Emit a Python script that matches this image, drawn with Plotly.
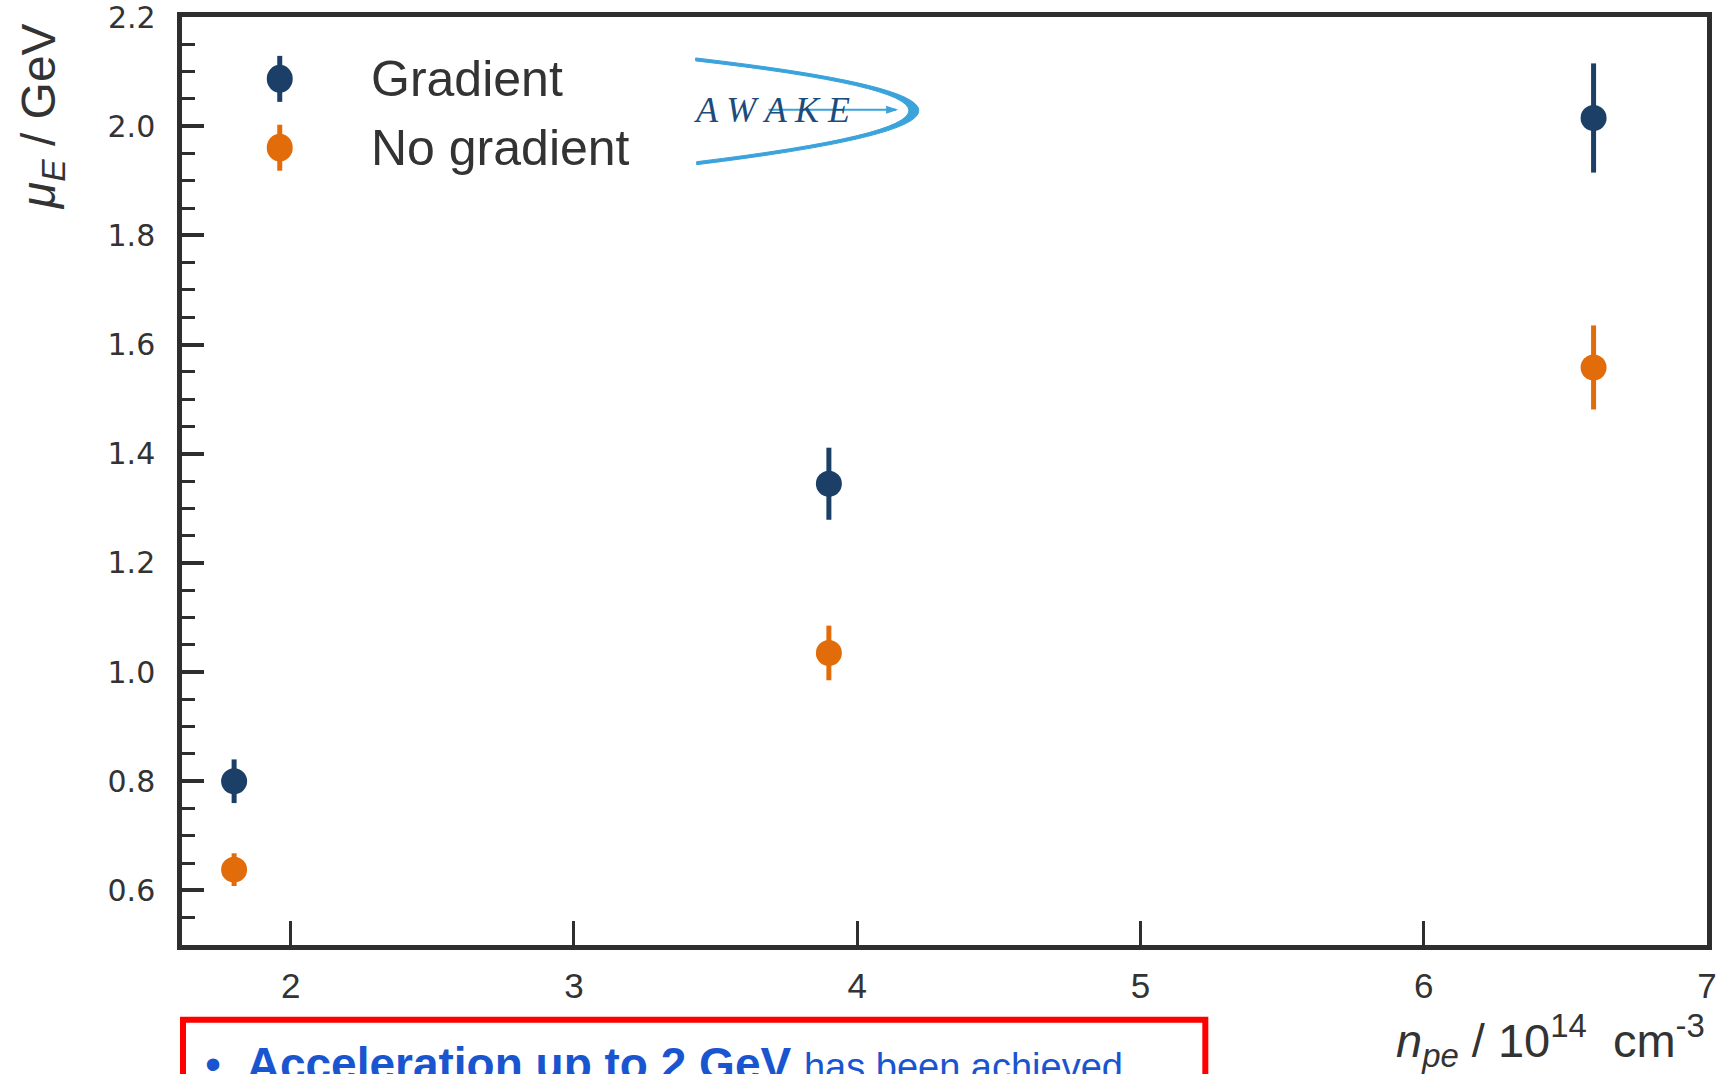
import plotly.graph_objects as go

# Mean witness-bunch energy vs. plasma electron density
density = [1.8, 3.9, 6.6]                     # n_pe / 1e14 cm^-3
gradient_energy = [0.80, 1.345, 2.015]        # GeV
gradient_err = [0.04, 0.066, 0.10]
no_gradient_energy = [0.638, 1.035, 1.558]    # GeV
no_gradient_err = [0.03, 0.05, 0.077]

series_names = ["Gradient", "No gradient"]
series_colors = ["#1b3f66", "#e36c0a"]

x_ticks = [2, 3, 4, 5, 6, 7]
y_ticks = [0.6, 0.8, 1.0, 1.2, 1.4, 1.6, 1.8, 2.0, 2.2]
y_tick_text = ["0.6", "0.8", "1.0", "1.2", "1.4", "1.6", "1.8", "2.0", "2.2"]

W, H = 1729, 1074
ML, MR, MT, MB = 182, 18, 15, 129
PW, PH = W - ML - MR, H - MT - MB

AXIS = "#2e2e2e"
TEXT = "#333333"
Y_TICK_FONT = dict(family="DejaVu Sans, Liberation Sans", size=30, color=TEXT)


def px(xp):
    """page pixel x -> paper x"""
    return (xp - ML) / PW


def py(yp):
    """page pixel y -> paper y"""
    return (H - MB - yp) / PH


fig = go.Figure()

for name, color, yv, err in [
    (series_names[0], series_colors[0], gradient_energy, gradient_err),
    (series_names[1], series_colors[1], no_gradient_energy, no_gradient_err),
]:
    fig.add_trace(go.Scatter(
        x=density, y=yv, mode="markers", name=name,
        marker=dict(size=26, color=color, line=dict(width=0)),
        error_y=dict(type="data", array=err, visible=True,
                     thickness=5, width=0, color=color),
        showlegend=False,
    ))

shapes = []
annotations = []

# hand-built legend: marker with error bar, then label
legend_rows = [77, 146]
for name, color, yrow in zip(series_names, series_colors, legend_rows):
    shapes.append(dict(type="line", xref="paper", yref="paper",
                       xsizemode="pixel", ysizemode="pixel",
                       xanchor=px(280), yanchor=py(yrow),
                       x0=0, x1=0, y0=-23, y1=23,
                       line=dict(color=color, width=5)))
    shapes.append(dict(type="circle", xref="paper", yref="paper",
                       xsizemode="pixel", ysizemode="pixel",
                       xanchor=px(280), yanchor=py(yrow),
                       x0=-13, x1=13, y0=-14, y1=14,
                       fillcolor=color, line=dict(width=0)))
    annotations.append(dict(text=name, xref="paper", yref="paper",
                            x=px(369), y=py(yrow), xanchor="left", yanchor="middle",
                            showarrow=False,
                            font=dict(family="Liberation Sans, Arial", size=50, color=TEXT)))

# AWAKE logo: crescent-shaped parabola, arrow line and lettering
def pt(xp, yp):
    return f"{px(xp):.5f},{py(yp):.5f}"

crescent = ("M " + pt(697, 56) + " Q " + pt(1144, 108) + " " + pt(698, 163)
            + " L " + pt(698, 160) + " Q " + pt(1124, 108) + " " + pt(697, 59) + " Z")
shapes.append(dict(type="path", xref="paper", yref="paper", path=crescent,
                   fillcolor="#3ba3db", line=dict(color="#3ba3db", width=1)))
shapes.append(dict(type="line", xref="paper", yref="paper",
                   x0=px(770), x1=px(898), y0=py(108), y1=py(108),
                   line=dict(color="#3ba3db", width=2)))
shapes.append(dict(type="path", xref="paper", yref="paper",
                   path="M " + pt(888, 104) + " L " + pt(900, 108) + " L " + pt(888, 112) + " Z",
                   fillcolor="#3ba3db", line=dict(width=0)))
annotations.append(dict(text="<i>A W A K E</i>", xref="paper", yref="paper",
                        x=px(693), y=py(108), xanchor="left", yanchor="middle",
                        showarrow=False,
                        font=dict(family="Liberation Serif, DejaVu Serif", size=36, color="#1d4c7c")))

# top y tick label sits on the frame edge, so place it explicitly
annotations.append(dict(text=y_tick_text[-1], xref="paper", yref="y",
                        x=px(158), y=y_ticks[-1], xanchor="right", yanchor="middle",
                        showarrow=False, font=Y_TICK_FONT))

# axis titles
annotations.append(dict(text="<i>μ</i><sub><i>E</i></sub> / GeV", xref="paper", yref="paper",
                        x=px(41), y=py(115), xanchor="center", yanchor="middle",
                        textangle=-90, showarrow=False,
                        font=dict(family="Liberation Sans, Arial", size=48, color=TEXT)))
annotations.append(dict(text="<i>n</i><sub><i>pe</i></sub> / 10<sup>14</sup>  cm<sup>-3</sup>",
                        xref="paper", yref="paper",
                        x=1.0, y=py(1041), xanchor="right", yanchor="middle",
                        showarrow=False,
                        font=dict(family="Liberation Sans, Arial", size=47, color=TEXT)))

# red summary box below the chart
shapes.append(dict(type="rect", xref="paper", yref="paper",
                   x0=px(183), x1=px(1208), y0=py(1020), y1=py(1120),
                   line=dict(color="#ff0000", width=6), fillcolor="rgba(0,0,0,0)"))
annotations.append(dict(
    text="•  <b>Acceleration up to 2 GeV</b> <span style='font-size:38px'>has been achieved</span>",
    xref="paper", yref="paper", x=px(203), y=py(1036), xanchor="left", yanchor="top",
    showarrow=False,
    font=dict(family="Liberation Sans, Arial", size=46, color="#1a55d0")))

fig.update_layout(
    width=W, height=H,
    margin=dict(l=ML, r=MR, t=MT, b=MB, pad=0),
    paper_bgcolor="white", plot_bgcolor="white",
    shapes=shapes, annotations=annotations,
    showlegend=False,
    xaxis=dict(range=[1.616, 7.0005], tickvals=x_ticks, ticktext=[str(v) for v in x_ticks],
               showgrid=False, zeroline=False,
               showline=True, linewidth=4.5, linecolor=AXIS, mirror=True,
               ticks="inside", ticklen=24, tickwidth=3, tickcolor=AXIS,
               ticklabelstandoff=6,
               tickfont=dict(family="Liberation Sans Narrow, Liberation Sans, Arial", size=35, color=TEXT)),
    yaxis=dict(range=[0.5, 2.2], tickvals=y_ticks[:-1], ticktext=y_tick_text[:-1],
               showgrid=False, zeroline=False,
               showline=True, linewidth=4.5, linecolor=AXIS, mirror=True,
               ticks="inside", ticklen=22, tickwidth=3.5, tickcolor=AXIS,
               ticklabelstandoff=16,
               minor=dict(tick0=0.5, dtick=0.05, ticks="inside", ticklen=13,
                          tickwidth=3, tickcolor=AXIS, showgrid=False),
               tickfont=Y_TICK_FONT),
)

fig.write_html("out.html")
